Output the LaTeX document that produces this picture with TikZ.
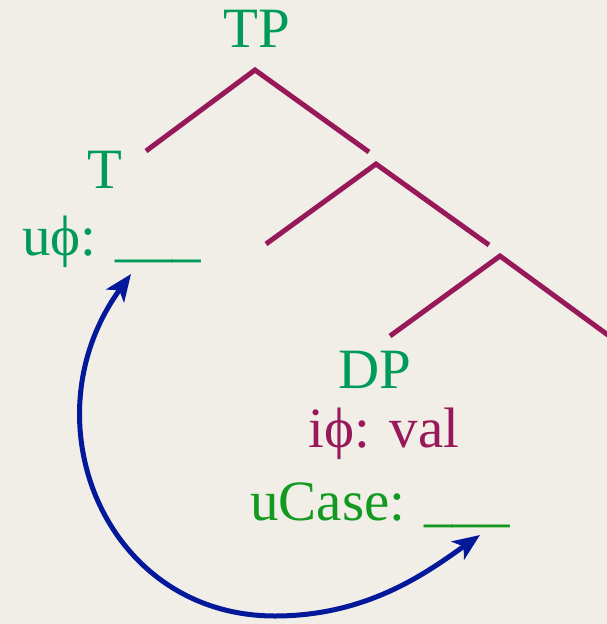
\documentclass[tikz,border=0pt]{standalone}
\usepackage{fontspec}
\setmainfont{Liberation Serif}
\usetikzlibrary{arrows.meta}
\definecolor{bgc}{HTML}{F1EEE8}
\definecolor{catgreen}{HTML}{009A5A}
\definecolor{featgreen}{HTML}{13991F}
\definecolor{maroon}{HTML}{97195A}
\definecolor{arrblue}{HTML}{04189A}
\tikzset{
  lbl/.style={inner sep=0pt, font=\fontsize{57}{62}\selectfont},
  cat/.style={lbl, text=catgreen, anchor=base},
  branch/.style={draw=maroon, line width=5pt},
  agree/.style={draw=arrblue, line width=5pt, {Stealth[length=27pt,width=22pt,inset=7pt]}-{Stealth[length=27pt,width=22pt,inset=7pt]}}
}
\begin{document}
\begin{tikzpicture}[x=1pt,y=-1pt]
\fill[bgc] (0,0) rectangle (607,624);
\useasboundingbox (0,0) rectangle (607,624);
% labels
\node[cat] (tp) at (257,47) {TP};
\node[cat] (t) at (105,188) {T};
\node[lbl, text=catgreen, anchor=base west] (tu) at (22,255) {u\char"03D5: \_\_\_};
\node[cat] (dp) at (375,388) {DP};
\node[lbl, text=maroon, anchor=base] (di) at (384,447) {i\char"03D5: val};
\node[lbl, text=featgreen, anchor=base west] (du) at (250,520) {uCase: \_\_\_};
% tree
\coordinate (a1) at (255,70);
\coordinate (l1) at (146,151);
\coordinate (r1) at (369,152);
\coordinate (a2) at (376,164);
\coordinate (l2) at (266,244);
\coordinate (r2) at (489,245);
\coordinate (a3) at (500,256);
\coordinate (l3) at (390,336);
\coordinate (r3) at (612,338);
\draw[branch] (l1) -- (a1) -- (r1);
\draw[branch] (l2) -- (a2) -- (r2);
\draw[branch] (l3) -- (a3) -- (r3);
% agreement arrow
\coordinate (s) at (131,274);
\coordinate (e) at (480,535);
\draw[agree] (s) .. controls (25,420) and (105,616) .. (275,616) .. controls (370,616) and (430,570) .. (e);
\end{tikzpicture}
\end{document}
